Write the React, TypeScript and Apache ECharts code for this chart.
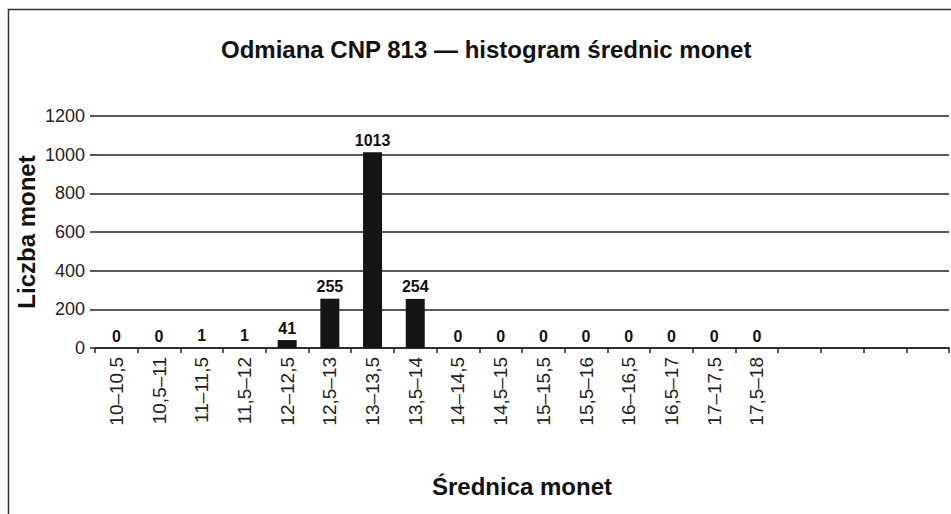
import React, { useEffect, useRef } from "react";
import * as echarts from "echarts";

const categories = [
  "10–10,5", "10,5–11", "11–11,5", "11,5–12", "12–12,5", "12,5–13", "13–13,5", "13,5–14",
  "14–14,5", "14,5–15", "15–15,5", "15,5–16", "16–16,5", "16,5–17", "17–17,5", "17,5–18",
  "", "", "", "",
];
const counts: (number | null)[] = [
  0, 0, 1, 1, 41, 255, 1013, 254, 0, 0, 0, 0, 0, 0, 0, 0, null, null, null, null,
];
const yTicks = { min: 0, max: 1200, interval: 200 };
const titleText = "Odmiana CNP 813 — histogram średnic monet";
const xName = "Średnica monet";
const yName = "Liczba monet";

const FONT = "Liberation Sans, Arial, Helvetica, sans-serif";

export default function App() {
  const ref = useRef<HTMLDivElement>(null);
  useEffect(() => {
    if (!ref.current) return;
    const chart = echarts.init(ref.current, undefined, { renderer: "svg" });
    chart.setOption({
      animation: false,
      backgroundColor: "#fff",
      title: {
        text: titleText,
        left: 216,
        top: 32,
        textStyle: { fontFamily: FONT, fontSize: 24, fontWeight: "bold", color: "#111" },
      },
      graphic: [
        {
          type: "rect",
          shape: { x: 8.5, y: 9.5, width: 1000, height: 600 },
          style: { fill: "none", stroke: "#333", lineWidth: 1.5 },
          silent: true,
        },
      ],
      grid: { left: 95, right: 2, top: 116, bottom: 166 },
      xAxis: {
        type: "category",
        data: categories,
        boundaryGap: true,
        name: xName,
        nameLocation: "middle",
        nameGap: 126,
        nameMoveOverlap: false,
        nameTextStyle: { fontFamily: FONT, fontSize: 24, fontWeight: "bold", color: "#111" },
        axisLine: { show: true, lineStyle: { color: "#222", width: 1.5 } },
        axisTick: { show: true, inside: false, length: 5, lineStyle: { color: "#222", width: 1.5 } },
        axisLabel: {
          rotate: 90,
          interval: 0,
          margin: 9,
          fontFamily: FONT,
          fontSize: 19,
          color: "#222",
        },
        splitLine: { show: false },
      },
      yAxis: {
        type: "value",
        min: yTicks.min,
        max: yTicks.max,
        interval: yTicks.interval,
        name: yName,
        nameLocation: "middle",
        nameGap: 57,
        nameMoveOverlap: false,
        nameTextStyle: { fontFamily: FONT, fontSize: 24, fontWeight: "bold", color: "#111" },
        axisLine: { show: false },
        axisTick: { show: true, length: 5, lineStyle: { color: "#222", width: 1.5 } },
        axisLabel: {
          fontFamily: FONT,
          fontSize: 18,
          color: "#222",
          margin: 10,
          formatter: (v: number) => String(v),
        },
        splitLine: { show: true, lineStyle: { color: "#222", width: 1.5 } },
      },
      series: [
        {
          type: "bar",
          data: counts,
          barWidth: 19,
          itemStyle: { color: "#151515" },
          label: {
            show: true,
            position: "top",
            distance: 4,
            fontFamily: FONT,
            fontSize: 16,
            fontWeight: "bold",
            color: "#111",
            formatter: (p: any) => (p.value === null || p.value === undefined ? "" : String(p.value)),
          },
        },
      ],
    });
    return () => chart.dispose();
  }, []);
  return (
    <div
      ref={ref}
      style={{ position: "fixed", left: 0, top: 0, width: 951, height: 514, background: "#fff" }}
    />
  );
}
